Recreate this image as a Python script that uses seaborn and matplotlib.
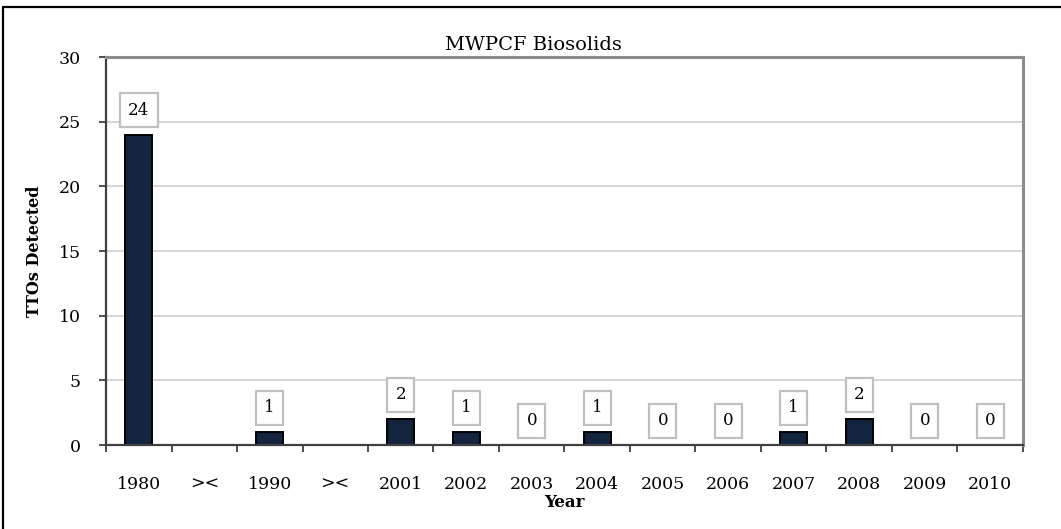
import matplotlib
matplotlib.use("Agg")
import matplotlib.pyplot as plt
import seaborn as sns
import pandas as pd
import numpy as np
from matplotlib.lines import Line2D
from matplotlib.ticker import FixedLocator, NullFormatter

years = ["1980", "><", "1990", "><", "2001", "2002", "2003", "2004",
         "2005", "2006", "2007", "2008", "2009", "2010"]
# Break markers ("><") carry no value
detected = [24, None, 1, None, 2, 1, 0, 1, 0, 0, 1, 2, 0, 0]

sns.set_theme(style="white")
plt.rcParams["font.family"] = ["DejaVu Serif"]
plt.rcParams["text.color"] = "black"
plt.rcParams["axes.labelcolor"] = "black"
plt.rcParams["xtick.labelcolor"] = "black"
plt.rcParams["ytick.labelcolor"] = "black"

df = pd.DataFrame({"pos": np.arange(len(years)), "year": years,
                   "ttos": [0 if v is None else v for v in detected]})

W, H = 1061, 529
fig = plt.figure(figsize=(W / 100, H / 100), dpi=100)
ax = fig.add_axes([106 / W, 1 - 445 / H, (1023 - 106) / W, (445 - 57) / H])

sns.barplot(data=df, x="pos", y="ttos", ax=ax, color="#13243f",
            edgecolor="black", linewidth=1.4, width=0.41, saturation=1,
            order=list(range(len(years))))
# no bars at the break markers
for i, p in enumerate(ax.patches):
    if detected[i] is None:
        p.set_visible(False)

ax.set_ylim(0, 30)
ax.set_xlim(-0.5, len(years) - 0.5)
ax.set_yticks([0, 5, 10, 15, 20, 25, 30])
ax.yaxis.grid(True, color="#cccccc", linewidth=1.1)
ax.set_axisbelow(True)

# Category separators as major ticks, labels on minor ticks
ax.xaxis.set_major_locator(FixedLocator(np.arange(-0.5, len(years), 1.0)))
ax.xaxis.set_major_formatter(NullFormatter())
ax.xaxis.set_minor_locator(FixedLocator(np.arange(len(years))))
ax.set_xticklabels(years, minor=True)
ax.tick_params(axis="x", which="major", direction="out", length=5, width=1.3,
               color="#404040", bottom=True)
ax.tick_params(axis="x", which="minor", length=0, pad=22, labelsize=12.5,
               labelcolor="black")
ax.tick_params(axis="y", direction="out", length=5, width=1.3, color="#404040",
               left=True, labelsize=12.5, pad=13, labelcolor="black")

for side in ("left", "bottom"):
    ax.spines[side].set_color("#404040")
    ax.spines[side].set_linewidth(1.6)
for side in ("top", "right"):
    ax.spines[side].set_visible(True)
    ax.spines[side].set_color("#8c8c8c")
    ax.spines[side].set_linewidth(2.2)

ax.set_xlabel("Year", fontsize=12, fontweight="bold", labelpad=1, color="black")
ax.set_ylabel("TTOs Detected", fontsize=11.5, fontweight="bold", labelpad=11,
              color="black")
ax.text((533 - 106) / 917, (445 - 50) / 388, "MWPCF Biosolids",
        transform=ax.transAxes, ha="center", va="baseline", fontsize=14,
        color="black")

# Value labels in boxes above bars
for i, v in enumerate(detected):
    if v is None:
        continue
    ax.annotate(f"{v}", xy=(i, v), xytext=(0, 17.5), textcoords="offset points",
                ha="center", va="center", fontsize=12, color="black",
                bbox=dict(boxstyle="square,pad=0.5", fc="white",
                          ec="#c0c0c0", lw=1.6))

# Frame around the chart (top and left edges)
fig.add_artist(Line2D([3 / W, 1.0], [1 - 7 / H, 1 - 7 / H],
                      transform=fig.transFigure, color="black", lw=1.6))
fig.add_artist(Line2D([3 / W, 3 / W], [0.0, 1 - 7 / H],
                      transform=fig.transFigure, color="black", lw=1.6))

fig.savefig("out.png", dpi=100)
